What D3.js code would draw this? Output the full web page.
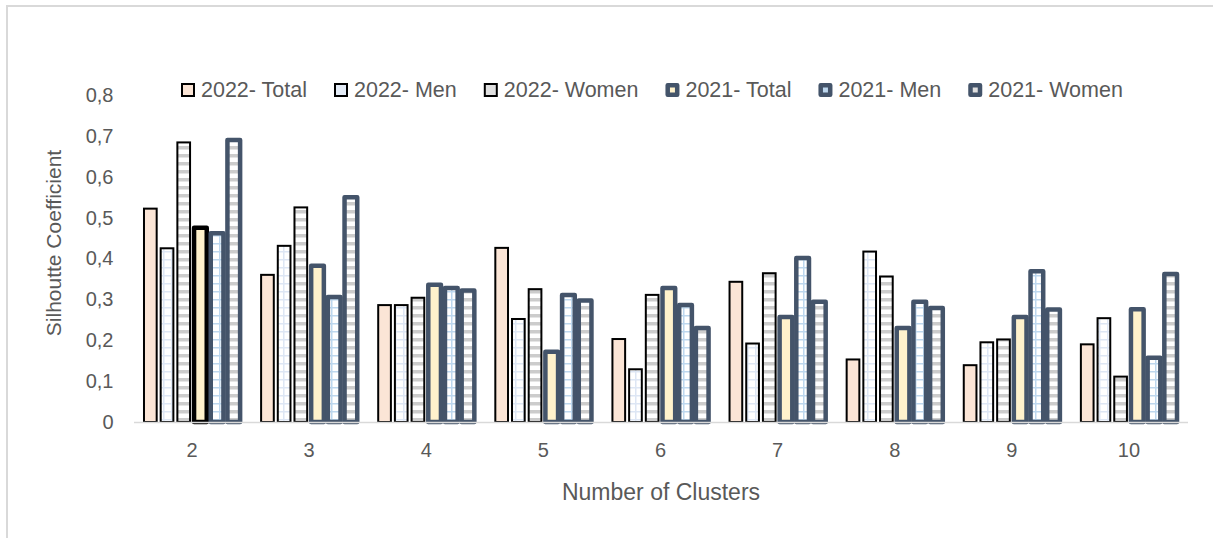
<!DOCTYPE html>
<html>
<head>
<meta charset="utf-8">
<script src="https://cdn.jsdelivr.net/npm/d3@7.9.0/dist/d3.min.js"></script>
<style>
  body { margin: 0; background: #fff; }
  svg { display: block; font-family: "Liberation Sans", Arial, sans-serif; }
  text { fill: #595959; }
</style>
</head>
<body>
<svg id="chart" width="1214" height="538"></svg>
<script>
const clusters = ['2', '3', '4', '5', '6', '7', '8', '9', '10'];
const seriesNames = ['2022- Total', '2022- Men', '2022- Women', '2021- Total', '2021- Men', '2021- Women'];

const total2022 = [0.522, 0.360, 0.286, 0.426, 0.203, 0.343, 0.153, 0.139, 0.190];
const men2022   = [0.425, 0.431, 0.286, 0.252, 0.129, 0.192, 0.417, 0.195, 0.254];
const women2022 = [0.684, 0.525, 0.304, 0.325, 0.311, 0.364, 0.356, 0.202, 0.111];
const total2021 = [0.475, 0.382, 0.336, 0.172, 0.328, 0.257, 0.230, 0.257, 0.276];
const men2021   = [0.462, 0.306, 0.328, 0.311, 0.286, 0.401, 0.294, 0.369, 0.157];
const women2021 = [0.690, 0.550, 0.322, 0.297, 0.230, 0.294, 0.279, 0.275, 0.362];

const yTicks = [0, 0.1, 0.2, 0.3, 0.4, 0.5, 0.6, 0.7, 0.8];

const seriesValues = [total2022, men2022, women2022, total2021, men2021, women2021];

// one point in the 2021 Total series has a black outline in the original
const blackOutlined = { series: '2021- Total', cluster: '2' };

const svg = d3.select('#chart');
const dark = '#44546A';

// patterns
const defs = svg.append('defs');
function gridPattern(id, color) {
  const p = defs.append('pattern').attr('id', id)
    .attr('patternUnits', 'userSpaceOnUse').attr('width', 8).attr('height', 8);
  p.append('rect').attr('width', 8).attr('height', 8).attr('fill', '#fff');
  p.append('rect').attr('x', 0).attr('y', 3).attr('width', 8).attr('height', 1.5).attr('fill', color);
  p.append('rect').attr('x', 3).attr('y', 0).attr('width', 1.5).attr('height', 8).attr('fill', color);
}
function stripePattern(id) {
  const p = defs.append('pattern').attr('id', id)
    .attr('patternUnits', 'userSpaceOnUse').attr('width', 8).attr('height', 8);
  p.append('rect').attr('width', 8).attr('height', 8).attr('fill', '#fff');
  p.append('rect').attr('x', 0).attr('y', 2).attr('width', 8).attr('height', 3.5).attr('fill', '#CCCCCC');
}
gridPattern('grid2022', '#DDE6F4');
gridPattern('grid2021', '#BDD7EE');
stripePattern('stripes');

const styles = {
  '2022- Total': { fill: '#FBE5D6', stroke: '#000', sw: 2 },
  '2022- Men': { fill: 'url(#grid2022)', stroke: '#000', sw: 2 },
  '2022- Women': { fill: 'url(#stripes)', stroke: '#000', sw: 2 },
  '2021- Total': { fill: '#FFF2CC', stroke: dark, sw: 4.5 },
  '2021- Men': { fill: 'url(#grid2021)', stroke: dark, sw: 4.5 },
  '2021- Women': { fill: 'url(#stripes)', stroke: dark, sw: 4.5 }
};
const legendFill = {
  '2022- Total': '#FBE5D6', '2022- Men': '#E4ECF7', '2022- Women': '#E0E0E0',
  '2021- Total': '#FFF2CC', '2021- Men': '#BDD7EE', '2021- Women': '#E0E0E0'
};

// frame
svg.append('path').attr('d', 'M7,538 V6 H1213')
  .attr('fill', 'none').attr('stroke', '#D9D9D9').attr('stroke-width', 2);

const x0 = d3.scaleBand().domain(clusters).range([133.5, 1187.5])
  .paddingInner(0.145).paddingOuter(0.0725);
const x1 = d3.scaleBand().domain(seriesNames).range([0, x0.bandwidth()]);
const y = d3.scaleLinear().domain([0, 0.8]).range([422, 95]);

const fmt = d3.formatLocale({ decimal: ',', thousands: '.', grouping: [3], currency: ['', ''] }).format('.1f');

// y axis labels
const yAxis = svg.append('g').attr('transform', 'translate(133.5,0)')
  .call(d3.axisLeft(y).tickValues(yTicks).tickSize(0).tickPadding(20)
    .tickFormat(d => d === 0 ? '0' : fmt(d)));
yAxis.select('.domain').remove();
yAxis.selectAll('text').attr('font-size', 20).attr('fill', '#595959')
  .style('font-family', '"Liberation Sans", Arial, sans-serif');

// bars
const rows = [];
seriesNames.forEach((s, si) => {
  clusters.forEach((c, ci) => rows.push({ series: s, cluster: c, value: seriesValues[si][ci] }));
});

svg.append('g').selectAll('rect')
  .data(rows)
  .join('rect')
  .attr('x', d => x0(d.cluster) + x1(d.series) + 2)
  .attr('width', x1.bandwidth() - 4)
  .attr('y', d => y(d.value))
  .attr('height', d => y(0) - y(d.value))
  .attr('fill', d => styles[d.series].fill)
  .attr('stroke', d => (d.series === blackOutlined.series && d.cluster === blackOutlined.cluster) ? '#000' : styles[d.series].stroke)
  .attr('stroke-width', d => styles[d.series].sw)
  .attr('stroke-linejoin', d => styles[d.series].sw > 3 ? 'round' : 'miter');

// x axis
const xAxis = svg.append('g').attr('transform', 'translate(0,422)')
  .call(d3.axisBottom(x0).tickSize(0).tickPadding(21).tickSizeOuter(0));
xAxis.select('.domain').attr('stroke', '#D9D9D9').attr('stroke-width', 1.5);
xAxis.selectAll('text').attr('font-size', 20).attr('fill', '#595959')
  .style('font-family', '"Liberation Sans", Arial, sans-serif');

// axis titles
svg.append('text')
  .attr('transform', 'translate(61,243) rotate(-90)')
  .attr('text-anchor', 'middle')
  .attr('font-size', 21)
  .text('Silhoutte Coefficient');

svg.append('text')
  .attr('x', 661).attr('y', 500)
  .attr('text-anchor', 'middle')
  .attr('font-size', 23)
  .text('Number of Clusters');

// legend
const legend = svg.append('g');
let lx = 181;
seriesNames.forEach(s => {
  const st = styles[s];
  const g = legend.append('g').attr('transform', `translate(${lx},83)`);
  const inset = st.sw / 2;
  g.append('rect')
    .attr('x', inset).attr('y', inset)
    .attr('width', 14 - st.sw).attr('height', 14 - st.sw)
    .attr('fill', legendFill[s]).attr('stroke', st.stroke).attr('stroke-width', st.sw)
    .attr('stroke-linejoin', st.sw > 3 ? 'round' : 'miter');
  const t = g.append('text').attr('x', 20).attr('y', 14)
    .attr('font-size', 21.5).text(s);
  lx += 20 + t.node().getComputedTextLength() + 27;
});
</script>
</body>
</html>
